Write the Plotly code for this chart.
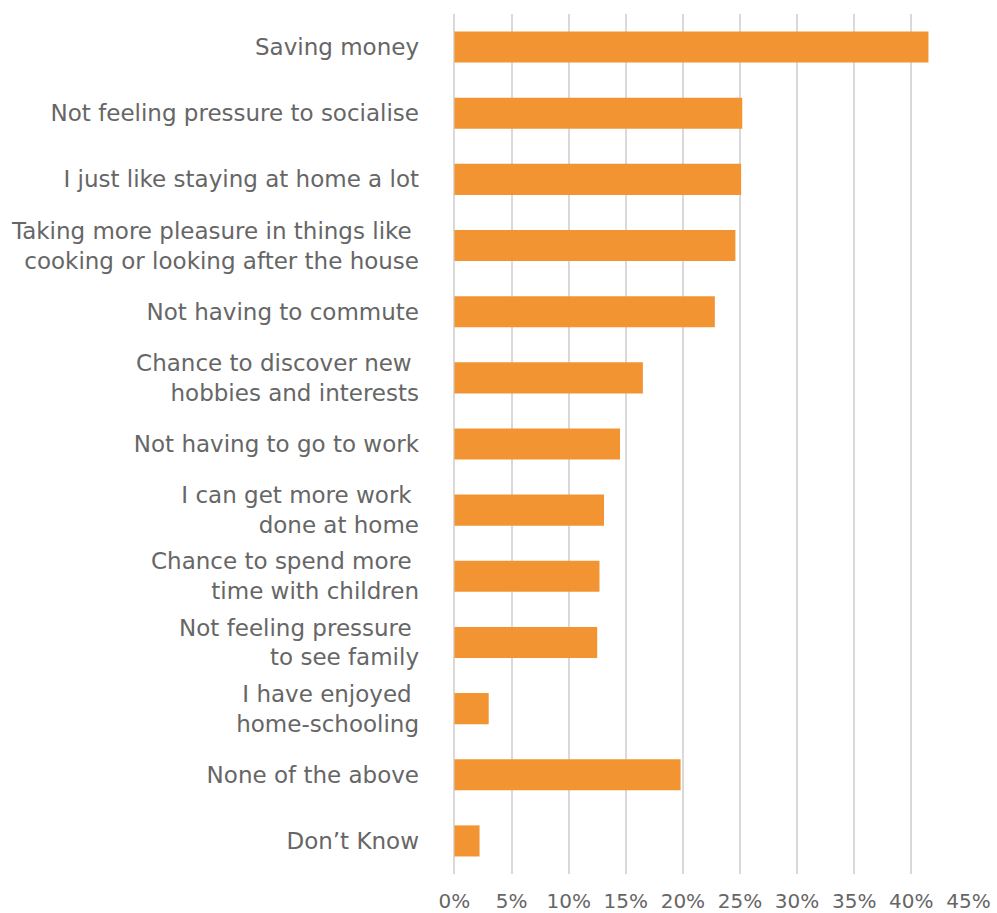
import plotly.graph_objects as go

# Survey responses, top to bottom
categories = [
    "Saving money",
    "Not feeling pressure to socialise",
    "I just like staying at home a lot",
    "Taking more pleasure in things like <br>cooking or looking after the house",
    "Not having to commute",
    "Chance to discover new <br>hobbies and interests",
    "Not having to go to work",
    "I can get more work <br>done at home",
    "Chance to spend more <br>time with children",
    "Not feeling pressure <br>to see family",
    "I have enjoyed <br>home-schooling",
    "None of the above",
    "Don\u2019t Know",
]
shares = [41.5, 25.2, 25.1, 24.6, 22.8, 16.5, 14.5, 13.1, 12.7, 12.5, 3.0, 19.8, 2.2]

tick_vals = [0, 5, 10, 15, 20, 25, 30, 35, 40, 45]
tick_text = ["0%", "5%", "10%", "15%", "20%", "25%", "30%", "35%", "40%", "45%"]

FONT = "DejaVu Sans"
GREY = "#666666"

fig = go.Figure(
    go.Bar(
        x=shares,
        y=categories,
        orientation="h",
        marker=dict(color="#F39433", line=dict(width=0)),
        hoverinfo="skip",
    )
)

fig.update_layout(
    width=997,
    height=913,
    margin=dict(l=451, r=28, t=14, b=39, autoexpand=False),
    paper_bgcolor="white",
    plot_bgcolor="white",
    bargap=0.53,
    showlegend=False,
    font=dict(family=FONT, color=GREY),
)

fig.update_xaxes(
    range=[-0.3, 45.05],
    tickvals=tick_vals,
    ticktext=tick_text,
    showgrid=True,
    gridcolor="#D9D9D9",
    gridwidth=2,
    zeroline=False,
    showline=False,
    ticks="",
    automargin=False,
    ticklabelstandoff=13,
    tickfont=dict(family=FONT, size=20, color=GREY),
    fixedrange=True,
)

fig.update_yaxes(
    categoryorder="array",
    categoryarray=categories[::-1],
    autorange=False,
    range=[-0.5, len(categories) - 0.5],
    showgrid=False,
    zeroline=False,
    showline=False,
    ticks="",
    automargin=False,
    ticklabelstandoff=31,
    tickfont=dict(family=FONT, size=23, color=GREY),
    fixedrange=True,
)

fig.write_html("out.html")
